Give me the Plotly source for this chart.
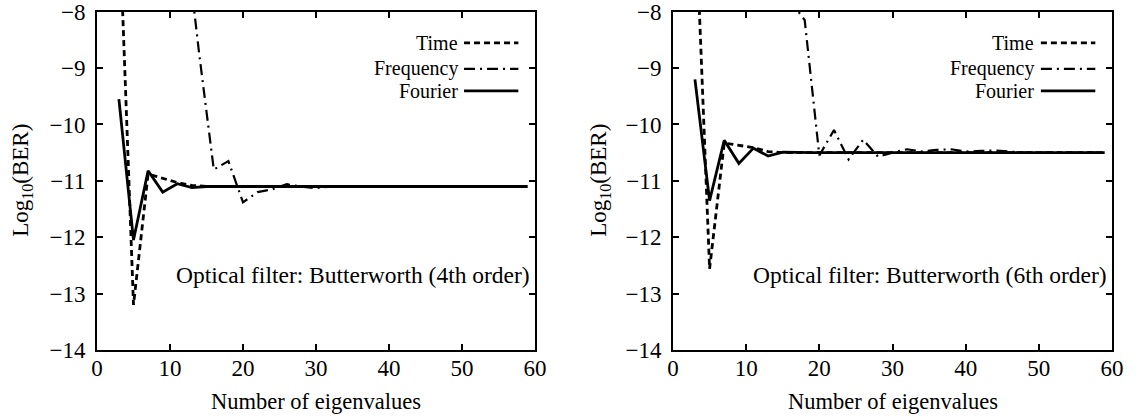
import plotly.graph_objects as go

# ---------------- data ----------------
# Left panel: Butterworth 4th order
x_odd = [3, 5, 7, 9, 11, 13, 15, 17, 19, 21, 23, 25, 27, 29, 31, 33, 35, 37, 39, 41, 43, 45, 47, 49, 51, 53, 55, 57, 59]
left_time = [-6.2, -13.2, -10.88, -10.95, -11.03, -11.08, -11.1, -11.1, -11.1, -11.1, -11.1, -11.1, -11.1, -11.1,
             -11.1, -11.1, -11.1, -11.1, -11.1, -11.1, -11.1, -11.1, -11.1, -11.1, -11.1, -11.1, -11.1, -11.1, -11.1]
left_fourier = [-9.55, -12.05, -10.82, -11.2, -11.05, -11.12, -11.1, -11.1, -11.1, -11.1, -11.1, -11.1, -11.1, -11.1,
                -11.1, -11.1, -11.1, -11.1, -11.1, -11.1, -11.1, -11.1, -11.1, -11.1, -11.1, -11.1, -11.1, -11.1, -11.1]
x_even_left = [12, 14, 16, 18, 20, 22, 24, 26, 28, 30, 32, 34, 36, 38, 40, 42, 44, 46, 48, 50, 52, 54, 56, 58]
left_freq = [-6.5, -8.75, -10.8, -10.65, -11.38, -11.2, -11.15, -11.06, -11.1, -11.13, -11.1, -11.11, -11.1, -11.1,
             -11.1, -11.1, -11.1, -11.1, -11.1, -11.1, -11.1, -11.1, -11.1, -11.1]

# Right panel: Butterworth 6th order
right_time = [-6.0, -12.56, -10.33, -10.37, -10.41, -10.48, -10.5, -10.5, -10.5, -10.5, -10.5, -10.5, -10.5, -10.5,
              -10.5, -10.5, -10.5, -10.5, -10.5, -10.5, -10.5, -10.5, -10.5, -10.5, -10.5, -10.5, -10.5, -10.5, -10.5]
right_fourier = [-9.2, -11.35, -10.28, -10.69, -10.42, -10.56, -10.49, -10.5, -10.5, -10.5, -10.5, -10.5, -10.5, -10.5,
                 -10.5, -10.5, -10.5, -10.5, -10.5, -10.5, -10.5, -10.5, -10.5, -10.5, -10.5, -10.5, -10.5, -10.5, -10.5]
x_even_right = [14, 16, 18, 20, 22, 24, 26, 28, 30, 32, 34, 36, 38, 40, 42, 44, 46, 48, 50, 52, 54, 56, 58]
right_freq = [-7.0, -7.8, -8.15, -10.55, -10.1, -10.62, -10.27, -10.57, -10.5, -10.44, -10.48, -10.45, -10.44,
              -10.48, -10.47, -10.46, -10.48, -10.5, -10.5, -10.5, -10.5, -10.5, -10.5]

series_names = ["Time", "Frequency", "Fourier"]
x_ticks = [0, 10, 20, 30, 40, 50, 60]
y_ticks = [-14, -13, -12, -11, -10, -9, -8]
panel_notes = ["Optical filter: Butterworth (4th order)", "Optical filter: Butterworth (6th order)"]
x_title = "Number of eigenvalues"
y_title = "Log<sub>10</sub>(BER)"

# ---------------- styles ----------------
FONT = "Liberation Serif, Times New Roman, serif"
FS = 23
FS_NOTE = 23.5
FS_XT = 22.5
FS_LEG = 20
styles = {
    "Time": dict(color="black", width=2.8, dash="6px,4px"),
    "Frequency": dict(color="black", width=2.2, dash="11px,5px,2px,5px"),
    "Fourier": dict(color="black", width=2.8, dash="solid"),
}

W, H = 1138, 420
dom_x = [[97 / W, 535 / W], [673 / W, 1112 / W]]
dom_y = [(H - 350) / H, (H - 11.7) / H]

fig = go.Figure()

panels = [
    (x_odd, left_time, x_even_left, left_freq, left_fourier),
    (x_odd, right_time, x_even_right, right_freq, right_fourier),
]
for i, (xo, t, xe, f, fo) in enumerate(panels):
    xa = "x" if i == 0 else "x2"
    ya = "y" if i == 0 else "y2"
    fig.add_trace(go.Scatter(x=xo, y=t, mode="lines", line=styles["Time"], xaxis=xa, yaxis=ya, showlegend=False))
    fig.add_trace(go.Scatter(x=xe, y=f, mode="lines", line=styles["Frequency"], xaxis=xa, yaxis=ya, showlegend=False))
    fig.add_trace(go.Scatter(x=xo, y=fo, mode="lines", line=styles["Fourier"], xaxis=xa, yaxis=ya, showlegend=False))

axis_common = dict(
    showgrid=False, zeroline=False, showline=True, linecolor="black", linewidth=2,
    mirror="allticks", ticks="inside", ticklen=6, tickwidth=2, tickcolor="black",
    tickfont=dict(family=FONT, size=FS, color="black"), automargin=False,
    ticklabeloverflow="allow",
)

layout = dict(
    width=W, height=H, margin=dict(l=0, r=0, t=0, b=0, pad=0, autoexpand=False),
    paper_bgcolor="white", plot_bgcolor="white", showlegend=False,
    font=dict(family=FONT, size=FS, color="black"),
)
for i in range(2):
    sx = "" if i == 0 else "2"
    layout["xaxis" + sx] = dict(axis_common, domain=dom_x[i], range=[0, 60], tickvals=x_ticks,
                                anchor="y" + sx, ticklabelstandoff=-4)
    layout["yaxis" + sx] = dict(axis_common, domain=dom_y, range=[-14, -8], tickvals=y_ticks,
                                anchor="x" + sx, ticklabelstandoff=5)
fig.update_layout(**layout)

annotations = []
shapes = []
legend_y = [0.908, 0.831, 0.766]
for i in range(2):
    sx = "" if i == 0 else "2"
    xr = ("x" + sx) + " domain"
    yr = ("y" + sx) + " domain"
    for name, ly in zip(series_names, legend_y):
        annotations.append(dict(xref=xr, yref=yr, x=0.828, y=ly, text=name, showarrow=False,
                                xanchor="right", yanchor="middle", font=dict(family=FONT, size=FS_LEG)))
        st = styles[name]
        shapes.append(dict(type="line", xref=xr, yref=yr, x0=0.838, x1=0.962, y0=ly, y1=ly,
                           line=dict(color="black", width=st["width"], dash=st["dash"])))
    annotations.append(dict(xref=xr, yref=yr, x=0.993, y=0.222, text=panel_notes[i], showarrow=False,
                            xanchor="right", yanchor="middle", font=dict(family=FONT, size=FS_NOTE)))
    # axis titles
    annotations.append(dict(xref=xr, yref="paper", x=0.5, y=(H - 401) / H, text=x_title, showarrow=False,
                            xanchor="center", yanchor="middle", font=dict(family=FONT, size=FS_XT)))
    annotations.append(dict(xref="paper", yref=yr, x=(22 if i == 0 else 600) / W, y=0.5, text=y_title,
                            showarrow=False, textangle=-90, xanchor="center", yanchor="middle",
                            font=dict(family=FONT, size=FS)))
fig.update_layout(annotations=annotations, shapes=shapes)

fig.write_html("out.html")
